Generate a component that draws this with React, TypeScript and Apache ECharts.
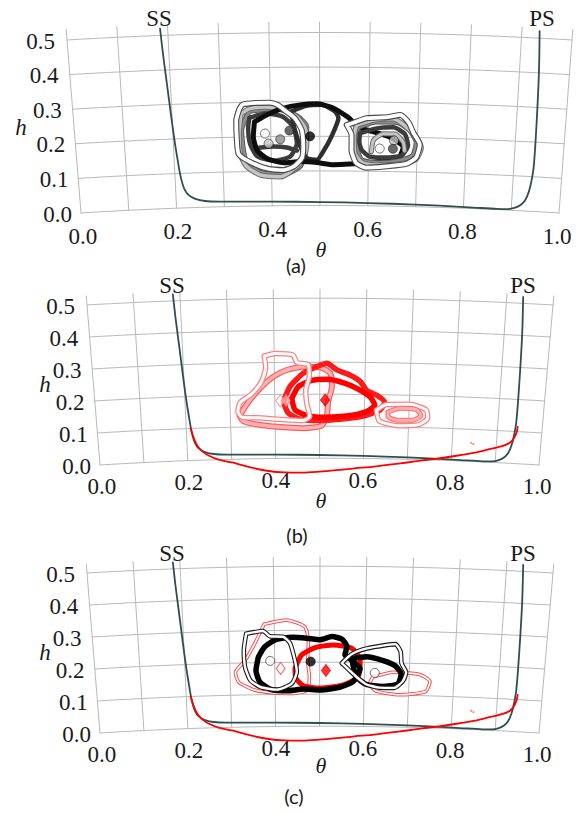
import React, { useEffect, useRef } from "react";
import * as echarts from "echarts";

const W = 576;
const H = 814;

// ---------- axis data ----------
const thetaTicks = [0, 0.2, 0.4, 0.6, 0.8, 1.0];
const thetaTickLabels = ["0.0", "0.2", "0.4", "0.6", "0.8", "1.0"];
const hTicks = [0, 0.1, 0.2, 0.3, 0.4, 0.5];
const hTickLabels = ["0.0", "0.1", "0.2", "0.3", "0.4", "0.5"];
const thetaGridLines = [0, 0.1, 0.2, 0.3, 0.4, 0.5, 0.6, 0.7, 0.8, 0.9, 1.0];
const panelLetters = ["(a)", "(b)", "(c)"];
const bladeLabels = ["SS", "PS"];

// ---------- blade outline (theta, h) ----------
const bladeTheta = [0.185, 0.188, 0.193, 0.198, 0.203, 0.207, 0.21, 0.213, 0.218, 0.226, 0.24, 0.26, 0.29, 0.35, 0.45, 0.55, 0.65, 0.75, 0.82, 0.87, 0.893, 0.908, 0.92, 0.928, 0.934, 0.938, 0.941, 0.941, 0.939, 0.935];
const bladeH = [0.52, 0.45, 0.36, 0.27, 0.19, 0.14, 0.105, 0.08, 0.055, 0.037, 0.025, 0.018, 0.015, 0.013, 0.011, 0.009, 0.007, 0.005, 0.003, 0.002, 0.003, 0.008, 0.018, 0.032, 0.055, 0.085, 0.13, 0.25, 0.4, 0.52];

// ---------- red curve (panels b, c) ----------
const redTheta = [0.21, 0.214, 0.219, 0.226, 0.236, 0.25, 0.27, 0.3, 0.34, 0.38, 0.42, 0.46, 0.5, 0.54, 0.58, 0.62, 0.66, 0.7, 0.735, 0.76, 0.8, 0.85, 0.89, 0.915, 0.93, 0.938, 0.943, 0.945];
const redH = [0.1, 0.078, 0.058, 0.04, 0.025, 0.012, 0.0, -0.01, -0.026, -0.038, -0.044, -0.045, -0.042, -0.037, -0.031, -0.026, -0.018, -0.01, -0.002, 0.003, 0.013, 0.027, 0.043, 0.053, 0.064, 0.078, 0.095, 0.115];
const redSpeckles = [[0.843, 0.058], [0.848, 0.054]];

// ---------- panel (a) contours ----------
const aWhiteL = [[0.337, 0.281], [0.344, 0.294], [0.371, 0.298], [0.398, 0.298], [0.415, 0.291], [0.432, 0.272], [0.449, 0.253], [0.463, 0.219], [0.466, 0.171], [0.463, 0.137], [0.446, 0.113], [0.425, 0.103], [0.391, 0.108], [0.357, 0.127], [0.333, 0.151], [0.33, 0.2], [0.33, 0.248]];
const aLightL = [[0.34, 0.267], [0.357, 0.281], [0.391, 0.286], [0.425, 0.277], [0.453, 0.257], [0.47, 0.224], [0.473, 0.18], [0.466, 0.132], [0.439, 0.098], [0.419, 0.084], [0.378, 0.089], [0.35, 0.113], [0.337, 0.147], [0.335, 0.209]];
const aGrayL = [[0.357, 0.275], [0.412, 0.281], [0.453, 0.259], [0.473, 0.228], [0.47, 0.171], [0.46, 0.115], [0.425, 0.091], [0.378, 0.096], [0.347, 0.132], [0.34, 0.219]];
const aDarkL = [[0.357, 0.255], [0.391, 0.267], [0.425, 0.257], [0.446, 0.228], [0.453, 0.18], [0.439, 0.142], [0.405, 0.13], [0.371, 0.144], [0.357, 0.18], [0.354, 0.228]];
const aDarkStroke = [[0.364, 0.166], [0.405, 0.171], [0.432, 0.168], [0.453, 0.159]];
const aBlack = [[0.367, 0.243], [0.391, 0.262], [0.425, 0.281], [0.46, 0.291], [0.494, 0.294], [0.524, 0.284], [0.545, 0.267], [0.562, 0.25], [0.575, 0.228], [0.596, 0.219], [0.623, 0.209], [0.65, 0.195], [0.671, 0.171], [0.664, 0.144], [0.637, 0.132], [0.596, 0.124], [0.562, 0.12], [0.528, 0.118], [0.494, 0.124], [0.46, 0.127], [0.425, 0.124], [0.391, 0.137], [0.371, 0.161], [0.364, 0.2]];
const aDarkMid = [[0.442, 0.272], [0.473, 0.288], [0.504, 0.291], [0.531, 0.272], [0.538, 0.253], [0.524, 0.2], [0.507, 0.156], [0.494, 0.132], [0.473, 0.137], [0.46, 0.171], [0.449, 0.219]];
const aWhiteR = [[0.555, 0.233], [0.575, 0.243], [0.596, 0.253], [0.637, 0.257], [0.664, 0.264], [0.681, 0.243], [0.691, 0.214], [0.705, 0.18], [0.698, 0.142], [0.678, 0.123], [0.637, 0.115], [0.596, 0.11], [0.575, 0.123], [0.565, 0.161], [0.565, 0.204]];
const aLightR = [[0.575, 0.233], [0.61, 0.248], [0.65, 0.253], [0.674, 0.233], [0.695, 0.204], [0.708, 0.171], [0.698, 0.137], [0.671, 0.124], [0.63, 0.118], [0.589, 0.123], [0.572, 0.151], [0.57, 0.2]];
const aGrayR = [[0.579, 0.228], [0.616, 0.243], [0.657, 0.243], [0.685, 0.219], [0.698, 0.185], [0.691, 0.147], [0.664, 0.132], [0.623, 0.124], [0.586, 0.132], [0.575, 0.171], [0.574, 0.209]];
const aDarkR = [[0.582, 0.209], [0.616, 0.224], [0.65, 0.228], [0.674, 0.209], [0.681, 0.176], [0.668, 0.147], [0.637, 0.14], [0.603, 0.142], [0.586, 0.161], [0.581, 0.185]];
const aLightLoopR = [[0.606, 0.156], [0.61, 0.19], [0.63, 0.209], [0.654, 0.209], [0.671, 0.185], [0.674, 0.161]];
const aPtsWhite = [[0.388, 0.209], [0.623, 0.166]];
const aPtsLight = [[0.395, 0.18], [0.652, 0.19]];
const aPtsGray = [[0.419, 0.192]];
const aPtsDark = [[0.438, 0.217], [0.65, 0.166]];
const aPtsBlack = [[0.48, 0.2]];

// ---------- panel (b) contours ----------
const bPaleA = [[0.378, 0.32], [0.401, 0.328], [0.441, 0.323], [0.45, 0.299], [0.475, 0.292], [0.477, 0.255], [0.469, 0.213], [0.471, 0.172], [0.478, 0.13], [0.464, 0.118], [0.412, 0.122], [0.36, 0.128], [0.327, 0.13], [0.317, 0.149], [0.323, 0.177], [0.349, 0.203], [0.371, 0.24], [0.381, 0.286]];
const bPinkB = [[0.321, 0.135], [0.338, 0.172], [0.367, 0.219], [0.397, 0.255], [0.427, 0.276], [0.464, 0.286], [0.501, 0.284], [0.523, 0.266], [0.527, 0.224], [0.519, 0.177], [0.516, 0.13], [0.504, 0.101], [0.464, 0.094], [0.404, 0.099], [0.352, 0.109], [0.327, 0.12]];
const bRedOuter = [[0.419, 0.177], [0.434, 0.224], [0.464, 0.266], [0.493, 0.286], [0.516, 0.297], [0.538, 0.276], [0.567, 0.26], [0.59, 0.24], [0.604, 0.213], [0.627, 0.198], [0.645, 0.177], [0.634, 0.151], [0.59, 0.13], [0.545, 0.122], [0.501, 0.118], [0.456, 0.122], [0.43, 0.141]];
const bRedInner = [[0.438, 0.187], [0.453, 0.224], [0.482, 0.243], [0.516, 0.247], [0.553, 0.236], [0.582, 0.219], [0.612, 0.193], [0.623, 0.167], [0.604, 0.146], [0.56, 0.132], [0.516, 0.128], [0.475, 0.132], [0.445, 0.151]];
const bPaleRight = [[0.627, 0.151], [0.649, 0.17], [0.701, 0.172], [0.738, 0.156], [0.742, 0.13], [0.723, 0.109], [0.679, 0.104], [0.634, 0.118]];
const bPinkRight = [[0.653, 0.146], [0.679, 0.159], [0.716, 0.156], [0.727, 0.138], [0.708, 0.122], [0.671, 0.122], [0.653, 0.132]];
const bPtsWhite = [[0.412, 0.18]];
const bPtsPink = [[0.425, 0.181]];
const bPtsRed = [[0.512, 0.182]];

// ---------- panel (c) contours ----------
const cWhiteL = [[0.338, 0.291], [0.375, 0.299], [0.39, 0.282], [0.419, 0.28], [0.434, 0.261], [0.443, 0.218], [0.449, 0.171], [0.438, 0.134], [0.404, 0.115], [0.367, 0.124], [0.345, 0.145], [0.334, 0.186], [0.332, 0.238]];
const cBlackBig = [[0.364, 0.218], [0.378, 0.249], [0.404, 0.272], [0.438, 0.278], [0.471, 0.275], [0.501, 0.27], [0.527, 0.28], [0.549, 0.272], [0.56, 0.249], [0.556, 0.223], [0.571, 0.207], [0.59, 0.181], [0.575, 0.14], [0.545, 0.122], [0.501, 0.113], [0.464, 0.116], [0.427, 0.111], [0.39, 0.116], [0.366, 0.14], [0.358, 0.176]];
const cBlackRight = [[0.571, 0.212], [0.604, 0.218], [0.641, 0.207], [0.667, 0.192], [0.682, 0.166], [0.675, 0.134], [0.641, 0.126], [0.604, 0.132], [0.582, 0.155]];
const cWhiteR = [[0.549, 0.197], [0.571, 0.226], [0.604, 0.244], [0.649, 0.256], [0.667, 0.259], [0.679, 0.236], [0.682, 0.199], [0.693, 0.171], [0.686, 0.143], [0.667, 0.122], [0.634, 0.122], [0.604, 0.132], [0.582, 0.155], [0.564, 0.178]];
const cRedThinL = [[0.378, 0.32], [0.427, 0.332], [0.467, 0.311], [0.475, 0.265], [0.473, 0.207], [0.477, 0.155], [0.473, 0.113], [0.441, 0.103], [0.397, 0.105], [0.352, 0.116], [0.319, 0.14], [0.312, 0.171], [0.334, 0.207], [0.356, 0.259]];
const cRedThick = [[0.445, 0.181], [0.46, 0.223], [0.493, 0.247], [0.53, 0.254], [0.571, 0.244], [0.59, 0.207], [0.586, 0.155], [0.553, 0.129], [0.501, 0.119], [0.464, 0.126], [0.447, 0.15]];
const cRedThinR = [[0.619, 0.155], [0.664, 0.171], [0.723, 0.166], [0.747, 0.145], [0.738, 0.113], [0.679, 0.101], [0.627, 0.111], [0.612, 0.134]];
const cPtsWhite = [[0.39, 0.205], [0.623, 0.168]];
const cPtsPinkDiamond = [[0.413, 0.181]];
const cPtsBlack = [[0.48, 0.202]];
const cPtsRedDiamond = [[0.514, 0.174]];

// ---------- layout (pixels) ----------
const PANELS = [
  { x0: 81, x1: 559, tx0: 67, tx1: 572, y0: 213, y5: 40, sag: 7.5, hTop: 0.53, hLab: [21, 127], thLab: [321, 249], letter: [296, 265], ssLab: [159, 18], psLab: [542, 18] },
  { x0: 100, x1: 539, tx0: 87, tx1: 553, y0: 465, y5: 305, sag: 6.8, hTop: 0.528, hLab: [45, 384], thLab: [321, 500], letter: [297, 535], ssLab: [172, 285], psLab: [523, 285] },
  { x0: 100, x1: 539, tx0: 87, tx1: 553, y0: 733, y5: 573, sag: 6.8, hTop: 0.528, hLab: [45, 652], thLab: [321, 765], letter: [294, 796], ssLab: [172, 553], psLab: [523, 553] },
];

const SERIF = "Liberation Serif";
const SANS = "Lato";
const GRID_COLOR = "#b9b9b9";
const SLATE = "#2f4f4f";
const RED = "#ff0000";

type Pt = number[];

function makeProj(g: any) {
  return (th: number, h: number): Pt => {
    const t = h / 0.5;
    const L = g.x0 + (g.tx0 - g.x0) * t;
    const R = g.x1 + (g.tx1 - g.x1) * t;
    const x = L + th * (R - L);
    const y = g.y0 + (g.y5 - g.y0) * t - g.sag * 4 * th * (1 - th);
    return [x, y];
  };
}

function line(data: Pt[], color: string, width: number, smooth: number | boolean = false, z = 2) {
  return {
    type: "line",
    data,
    showSymbol: false,
    symbol: "none",
    silent: true,
    smooth,
    clip: false,
    z,
    lineStyle: { color, width, cap: "round", join: "round" },
  };
}

function buildOption() {
  const series: any[] = [];
  const graphics: any[] = [];

  const text = (x: number, y: number, t: string, opts: any) => {
    graphics.push({
      type: "text",
      x,
      y,
      silent: true,
      z: 100,
      style: {
        text: t,
        fill: "#1a1a1a",
        fontFamily: SERIF,
        fontSize: 23,
        align: "center",
        verticalAlign: "middle",
        ...opts,
      },
    });
  };

  PANELS.forEach((g, pi) => {
    const P = makeProj(g);
    const closed = (pts: number[][]) => [...pts, pts[0]].map((p) => P(p[0], p[1]));
    const open = (pts: number[][]) => pts.map((p) => P(p[0], p[1]));
    const contour = (pts: number[][], layers: [string, number][], sm = 0.2) => {
      layers.forEach(([c, w]) => series.push(line(closed(pts), c, w, sm, 5)));
    };
    const stroke = (pts: number[][], layers: [string, number][], sm = 0.2) => {
      layers.forEach(([c, w]) => series.push(line(open(pts), c, w, sm, 5)));
    };
    const markers = (pts: number[][], symbol: string, size: any, fill: string, edge: string, ew = 0.8) => {
      series.push({
        type: "scatter",
        data: open(pts),
        symbol,
        symbolSize: size,
        silent: true,
        clip: false,
        z: 8,
        itemStyle: { color: fill, borderColor: edge, borderWidth: ew },
      });
    };

    // grid rows (constant h)
    hTicks.forEach((h) => {
      const pts: Pt[] = [];
      for (let k = 0; k <= 40; k++) pts.push(P(k / 40, h));
      series.push(line(pts, GRID_COLOR, 1, false, 1));
    });
    // grid columns (constant theta)
    thetaGridLines.forEach((th) => {
      series.push(line([P(th, 0), P(th, g.hTop)], GRID_COLOR, 1, false, 1));
    });

    // tick labels
    hTicks.forEach((h, i) => {
      const t = h / 0.5;
      const [ex, ey] = P(0, h);
      text(ex - (9 + 3 * t), ey + 1, hTickLabels[i], { align: "right" });
    });
    thetaTicks.forEach((th, i) => {
      const [x, y] = P(th, -0.068);
      text(x, y, thetaTickLabels[i], {});
    });
    text(g.hLab[0], g.hLab[1], "h", { fontStyle: "italic", fontSize: 23 });
    text(g.thLab[0], g.thLab[1], "θ", { fontStyle: "italic", fontSize: 22 });
    text(g.letter[0], g.letter[1], panelLetters[pi], { fontFamily: SANS, fontSize: 20 });
    text(g.ssLab[0], g.ssLab[1], bladeLabels[0], {});
    text(g.psLab[0], g.psLab[1], bladeLabels[1], {});

    // blade outline
    series.push(line(bladeTheta.map((th, i) => P(th, bladeH[i])), SLATE, 1.8, 0.3, 3));

    if (pi === 0) {
      contour(aGrayL, [["#5a5a5a", 5.5], ["#8c8c8c", 3.5]]);
      contour(aLightL, [["#6a6a6a", 5.5], ["#c4c4c4", 3.5]]);
      contour(aDarkL, [["#3c3c3c", 4.5]]);
      stroke(aDarkStroke, [["#3c3c3c", 4.5]]);
      contour(aDarkMid, [["#2e2e2e", 4.5]]);
      contour(aBlack, [["#0d0d0d", 5]]);
      contour(aGrayR, [["#5a5a5a", 5.5], ["#8c8c8c", 3.5]]);
      contour(aLightR, [["#6a6a6a", 5.5], ["#c4c4c4", 3.5]]);
      contour(aDarkR, [["#3c3c3c", 4.5]]);
      stroke(aLightLoopR, [["#6a6a6a", 5], ["#c4c4c4", 3]]);
      contour(aWhiteL, [["#4a4a4a", 6], ["#ffffff", 3.8]]);
      contour(aWhiteR, [["#4a4a4a", 6], ["#ffffff", 3.8]]);
      markers(aPtsWhite, "circle", 9, "#ffffff", "#222");
      markers(aPtsLight, "circle", 9, "#c4c4c4", "#222");
      markers(aPtsGray, "circle", 9, "#8c8c8c", "#222");
      markers(aPtsDark, "circle", 9, "#444444", "#222");
      markers(aPtsBlack, "circle", 9, "#000000", "#000");
    } else {
      series.push(line(redTheta.map((th, i) => P(th, redH[i])), RED, 1.8, 0.3, 4));
      markers(redSpeckles, "circle", 2, "#ff6666", "#ff6666", 0);
    }

    if (pi === 1) {
      contour(bPinkB, [["#ff5c5c", 6], ["#ffb3b3", 3.5]]);
      contour(bRedOuter, [["#ff1a1a", 5.5]]);
      contour(bRedInner, [["#ff0000", 5.5]]);
      contour(bPaleA, [["#ff7f7f", 5.5], ["#ffffff", 3]]);
      contour(bPaleRight, [["#ff7f7f", 5.5], ["#ffffff", 3]]);
      contour(bPinkRight, [["#ff6b6b", 5], ["#ffb0b0", 3]]);
      markers(bPtsWhite, "diamond", [9, 12], "#ffffff", "#ff8080", 1);
      markers(bPtsPink, "diamond", [9, 12], "#ffaaaa", "#ff6666", 1);
      markers(bPtsRed, "diamond", [9, 12], "#ff0000", "#cc0000", 1);
    }

    if (pi === 2) {
      contour(cRedThinL, [["#ff4d4d", 3.6], ["#ffffff", 1.6]]);
      contour(cRedThick, [["#ff0000", 5]]);
      contour(cRedThinR, [["#ff4d4d", 3.6], ["#ffffff", 1.6]]);
      contour(cBlackBig, [["#000000", 5.5]]);
      contour(cBlackRight, [["#000000", 5.5]]);
      contour(cWhiteL, [["#1a1a1a", 4.6], ["#ffffff", 2.4]]);
      contour(cWhiteR, [["#1a1a1a", 4.6], ["#ffffff", 2.4]]);
      markers(cPtsWhite, "circle", 9, "#ffffff", "#222");
      markers(cPtsPinkDiamond, "diamond", [9, 12], "#ffffff", "#ff5050", 1.2);
      markers(cPtsBlack, "circle", 9, "#000000", "#000");
      markers(cPtsRedDiamond, "diamond", [9, 12], "#ff0000", "#ff0000", 1);
    }
  });

  return {
    animation: false,
    backgroundColor: "#ffffff",
    grid: { left: 0, right: 0, top: 0, bottom: 0, containLabel: false },
    xAxis: { type: "value", min: 0, max: W, show: false },
    yAxis: { type: "value", min: 0, max: H, inverse: true, show: false },
    series,
    graphic: graphics,
  };
}

export default function App() {
  const ref = useRef<HTMLDivElement>(null);
  useEffect(() => {
    document.body.style.margin = "0";
    const chart = echarts.init(ref.current as HTMLDivElement, null, { renderer: "svg" });
    chart.setOption(buildOption() as any);
    return () => chart.dispose();
  }, []);
  return <div ref={ref} style={{ width: W, height: H, background: "#fff" }} />;
}
